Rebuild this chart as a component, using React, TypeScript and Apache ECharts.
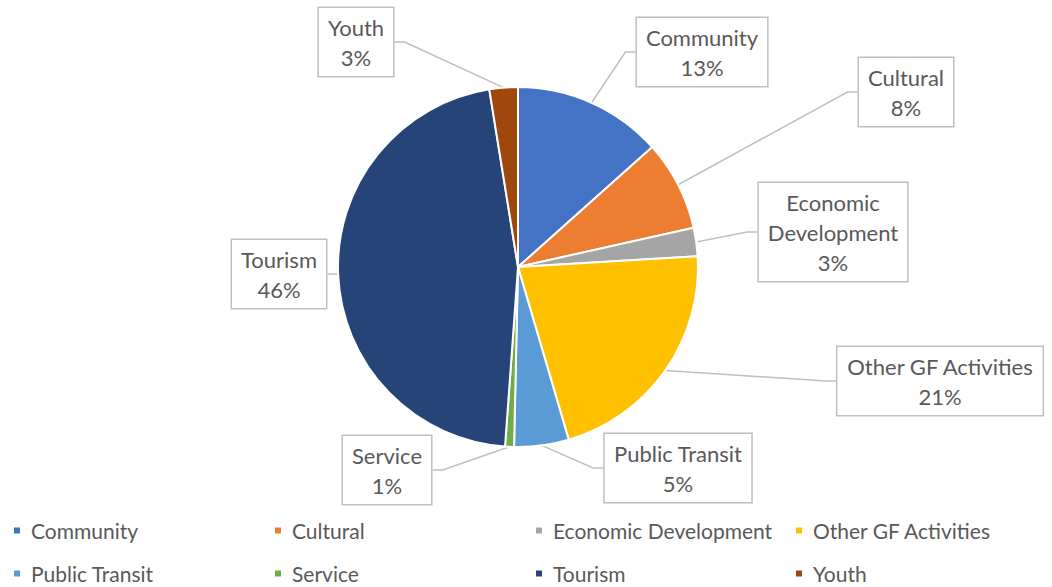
import React, { useEffect, useRef } from "react";
import * as echarts from "echarts";

const categories = [
  "Community",
  "Cultural",
  "Economic Development",
  "Other GF Activities",
  "Public Transit",
  "Service",
  "Tourism",
  "Youth",
];
const shares = [13.4, 8.1, 2.55, 21.4, 4.9, 0.8, 46.3, 2.55];
const colors = ["#4472C4", "#ED7D31", "#A5A5A5", "#FFC000", "#5B9BD5", "#70AD47", "#264478", "#9E480E"];
// label box centres (layout only)
const labelCenters = [
  [702, 52],
  [906, 92],
  [833, 232],
  [940, 381],
  [678, 468],
  [387, 470],
  [279, 274],
  [356, 42],
];
// legend grid (layout only)
const legendCols = [12, 273, 534, 794];
const legendRows = [520, 563];

const FONT = "Lato, 'Noto Sans', sans-serif";
const TEXT = "#595959";

export default function App() {
  const ref = useRef<HTMLDivElement>(null);
  useEffect(() => {
    document.body.style.margin = "0";
    const chart = echarts.init(ref.current!, undefined, { renderer: "svg" });
    const legends = categories.map((c, i) => ({
      left: legendCols[i % 4],
      top: legendRows[Math.floor(i / 4)],
      orient: "horizontal",
      icon: "rect",
      itemWidth: 8,
      itemHeight: 8,
      itemGap: 0,
      padding: 0,
      data: [c],
      textStyle: {
        fontFamily: FONT,
        fontSize: 21,
        color: TEXT,
        padding: [0, 0, 0, 5],
      },
    }));
    chart.setOption({
      animation: false,
      backgroundColor: "#ffffff",
      textStyle: { fontFamily: FONT },
      color: colors,
      legend: legends,
      series: [
        {
          type: "pie",
          center: [518, 267],
          radius: 180,
          startAngle: 90,
          clockwise: true,
          avoidLabelOverlap: false,
          itemStyle: { borderColor: "#ffffff", borderWidth: 2 },
          data: categories.map((c, i) => ({ name: c, value: shares[i] })),
          label: {
            show: true,
            position: "outside",
            formatter: (p: any) =>
              (p.name === "Economic Development" ? "Economic\nDevelopment" : p.name) +
              "\n" +
              Math.round(p.percent) +
              "%",
            fontFamily: FONT,
            fontSize: 22,
            lineHeight: 30,
            color: TEXT,
            align: "center",
            backgroundColor: "#ffffff",
            borderColor: "#bfbfbf",
            borderWidth: 1.5,
            padding: [4, 9, 4, 9],
          },
          labelLine: {
            show: true,
            length: 10,
            length2: 10,
            lineStyle: { color: "#bfbfbf", width: 1.5 },
          },
          labelLayout: (params: any) => {
            const c = labelCenters[params.dataIndex];
            return { x: c[0], y: c[1], align: "center", verticalAlign: "middle" };
          },
        },
      ],
    });
    return () => chart.dispose();
  }, []);
  return (
    <div
      ref={ref}
      style={{ position: "absolute", left: 0, top: 0, width: 1052, height: 587 }}
    />
  );
}
